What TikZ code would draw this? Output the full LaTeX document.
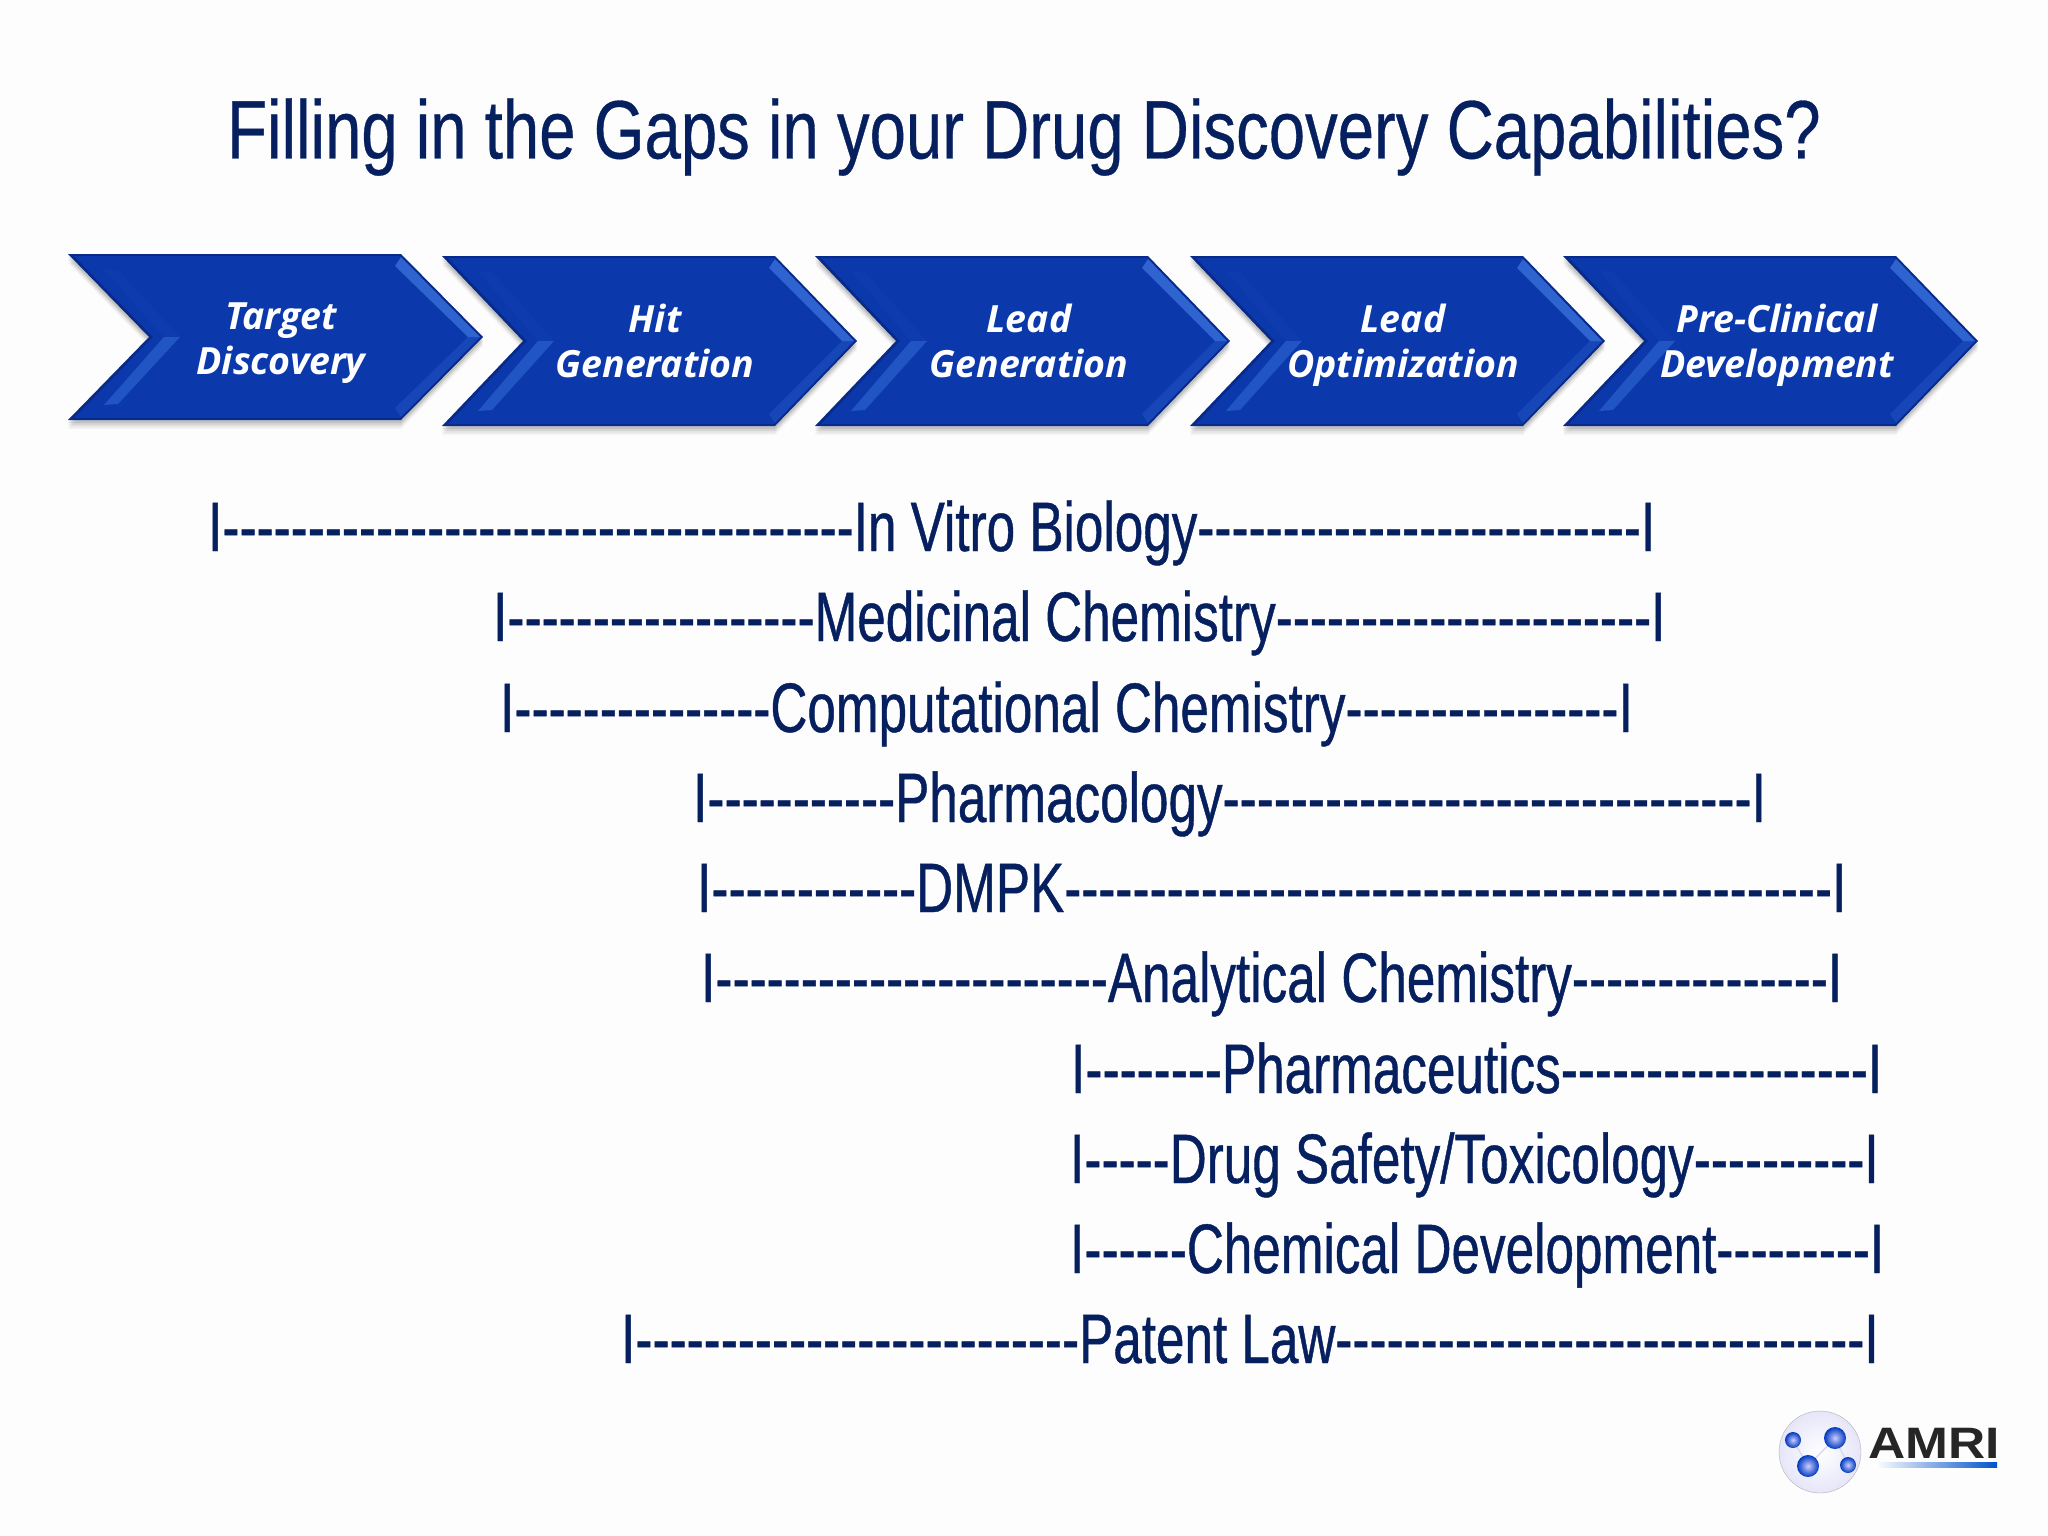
\documentclass[tikz,border=0pt]{standalone}
\usepackage{fontspec}
\newfontfamily\condf[FakeStretch=0.732,FakeBold=0.6]{Liberation Sans}
\newfontfamily\titlef[FakeStretch=0.787,FakeBold=0.4]{Liberation Sans}
\newfontfamily\chevf[BoldItalicFont={Open Sans Bold Italic}]{Open Sans}
\newfontfamily\logof[FakeStretch=1.17]{Liberation Sans}
\usetikzlibrary{calc}
\definecolor{navy}{HTML}{06205F}
\definecolor{chevblue}{HTML}{0B38AA}
\definecolor{chevdark}{HTML}{082A88}
\definecolor{chevlight}{HTML}{3A72DE}
\definecolor{paper}{HTML}{FDFDFE}
\newcommand\dd[1]{\foreach \i in {1,...,#1}{-}}
\tikzset{
  linetext/.style={anchor=base west,inner sep=0pt,text=navy,font=\fontsize{70}{70}\selectfont\condf},
  chevtext/.style={align=center,inner sep=0pt,text=white,font=\fontsize{37.5}{45}\selectfont\chevf\bfseries\itshape},
}
\newcommand\chevron[3]{% x, ytop, height
  \begin{scope}[shift={(#1,#2)}]
    \foreach \o/\a in {9/.04,7/.05,5/.07,3/.09}{
      \fill[black,opacity=\a] (0,\o) -- (333,\o) -- (415,#3/2+\o) -- (333,#3+\o) -- (0,#3+\o) -- (81,#3/2+\o) -- cycle;}
    \fill[chevdark] (0,0) -- (333,0) -- (415,#3/2) -- (333,#3) -- (0,#3) -- (81,#3/2) -- cycle;
    \fill[chevblue] (6,2) -- (332,2) -- (412,#3/2) -- (332,#3-2) -- (6,#3-2) -- (85,#3/2) -- cycle;
    \fill[chevlight,opacity=.75] (333,3) -- (412,#3/2) -- (400,#3/2) -- (327,12) -- cycle;
    \fill[chevlight,opacity=.25] (333,#3-3) -- (412,#3/2) -- (400,#3/2) -- (327,#3-12) -- cycle;
    \fill[chevlight,opacity=.5] (96,#3/2) -- (112,#3/2) -- (50,#3-16) -- (36,#3-15) -- cycle;
    \fill[chevlight,opacity=.08] (96,#3/2) -- (112,#3/2) -- (50,16) -- (36,15) -- cycle;
  \end{scope}}
\begin{document}
\begin{tikzpicture}[x=1pt,y=-1pt]
\useasboundingbox (0,0) rectangle (2048,1536);
\fill[paper] (0,0) rectangle (2048,1536);
\node[inner sep=0pt,text=navy,font=\fontsize{83}{83}\selectfont\titlef] (title) at (1024,137) {Filling in the Gaps in your Drug Discovery Capabilities?};

\chevron{68}{254}{166}
\chevron{442}{256}{170}
\chevron{815}{256}{170}
\chevron{1190}{256}{170}
\chevron{1563}{256}{170}
\node[chevtext] (c1) at (281,343) {Target\\Discovery};
\node[chevtext] (c2) at (655,341) {Hit\\Generation};
\node[chevtext] (c3) at (1029,341) {Lead\\Generation};
\node[chevtext] (c4) at (1403,345) {Lead\\Optimization};
\node[chevtext] (c5) at (1777,345) {Pre-Clinical\\Development};

\node[linetext] (l1) at (208,551) {I\dd{37}In Vitro Biology\dd{26}I};
\node[linetext] (l2) at (493,641) {I\dd{18}Medicinal Chemistry\dd{22}I};
\node[linetext] (l3) at (500,732) {I\dd{15}Computational Chemistry\dd{16}I};
\node[linetext] (l4) at (693,822) {I\dd{11}Pharmacology\dd{31}I};
\node[linetext] (l5) at (697,912) {I\dd{12}DMPK\dd{45}I};
\node[linetext] (l6) at (701,1002) {I\dd{23}Analytical Chemistry\dd{15}I};
\node[linetext] (l7) at (1071,1093) {I\dd{8}Pharmaceutics\dd{18}I};
\node[linetext] (l8) at (1070,1183) {I\dd{5}Drug Safety/Toxicology\dd{10}I};
\node[linetext] (l9) at (1070,1273) {I\dd{6}Chemical Development\dd{9}I};
\node[linetext] (l10) at (621,1363) {I\dd{26}Patent Law\dd{31}I};

% logo
\shade[inner color=white,outer color=black!25!blue!10!white,draw=black!30] (1820,1452) circle (41);
\draw[black!15!blue!15!white,line width=1.5pt] (1808,1466) -- (1835,1438) (1793,1440) -- (1808,1466) (1835,1438) -- (1848,1465);
\foreach \x/\y/\r in {1793/1440/8,1835/1438/11,1808/1466/11,1848/1465/8}{
  \shade[inner color=blue!20!white,outer color=blue!70!cyan!75!black] (\x,\y) circle (\r);}
\node[inner sep=0pt,anchor=base west,text=black!85,font=\fontsize{44}{44}\selectfont\logof\bfseries] (logo) at (1868,1458) {AMRI};
\shade[left color=white,right color=blue!60!cyan!80!black] (1875,1462) rectangle (1997,1467);
\end{tikzpicture}
\end{document}
